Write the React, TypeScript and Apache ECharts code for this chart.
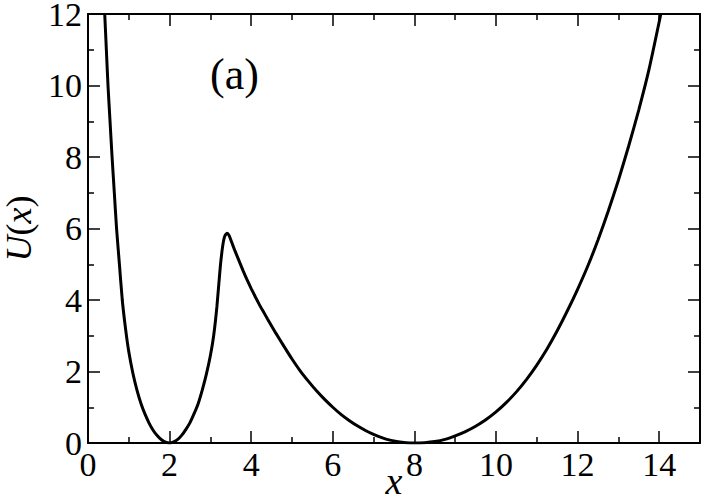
import React, { useEffect, useRef } from "react";
import * as echarts from "echarts";

const xValues = [
  0.41, 0.45, 0.49, 0.54, 0.59, 0.645, 0.7, 0.77, 0.84, 0.92, 1.0, 1.1, 1.2, 1.3, 1.4, 1.5, 1.6, 1.7, 1.8, 1.9, 2.0,
  2.1, 2.2, 2.3, 2.4, 2.5, 2.6, 2.7, 2.8, 2.9, 3.0, 3.08, 3.16, 3.24, 3.3, 3.35, 3.41, 3.46, 3.52, 3.6, 3.7, 3.8,
  3.9, 4.0, 4.1, 4.2, 4.3, 4.4, 4.6, 4.8, 5.0, 5.2, 5.4, 5.6, 5.8, 6.0, 6.2, 6.4, 6.6, 6.8, 7.0, 7.2, 7.4, 7.6,
  7.8, 8.0, 8.25, 8.5, 8.75, 9.0, 9.25, 9.5, 9.75, 10.0, 10.25, 10.5, 10.75, 11.0, 11.25, 11.5, 11.75, 12.0,
  12.25, 12.5, 12.75, 13.0, 13.25, 13.5, 13.75, 14.04,
];
const uValues = [
  12, 11, 10, 9, 8, 7, 6, 5, 4, 3.2, 2.55, 1.95, 1.48, 1.1, 0.8, 0.55, 0.35, 0.2, 0.09, 0.025, 0,
  0.03, 0.1, 0.22, 0.38, 0.57, 0.82, 1.1, 1.48, 1.92, 2.45, 3.0, 3.82, 4.9, 5.5, 5.78, 5.87, 5.8, 5.62, 5.38, 5.1, 4.82,
  4.56, 4.32, 4.09, 3.87, 3.67, 3.47, 3.08, 2.71, 2.35, 2.02, 1.73, 1.46, 1.22, 1.0, 0.8, 0.63, 0.48, 0.35, 0.24, 0.15, 0.08, 0.035,
  0.01, 0, 0.01, 0.04, 0.1, 0.2, 0.32, 0.47, 0.65, 0.87, 1.13, 1.43, 1.78, 2.18, 2.63, 3.14, 3.7, 4.3,
  4.95, 5.68, 6.48, 7.35, 8.3, 9.32, 10.45, 12,
];

const xRange = [0, 15];
const yRange = [0, 12];
const panelLabel = "(a)";

const FONT = "Liberation Serif";

export default function App() {
  const ref = useRef<HTMLDivElement>(null);
  useEffect(() => {
    document.body.style.margin = "0";
    const chart = echarts.init(ref.current!, null, { renderer: "svg" });
    const axisLine = { show: true, onZero: false, lineStyle: { color: "#000", width: 2 } };
    const tick = { show: true, inside: true, length: 12, lineStyle: { color: "#000", width: 1.5 } };
    const minor = { show: true, splitNumber: 2, length: 6, lineStyle: { color: "#000", width: 1.5 } };
    const label = { fontFamily: FONT, fontSize: 34, color: "#000" };
    const data = xValues.map((x, i) => [x, uValues[i]]);
    chart.setOption({
      animation: false,
      backgroundColor: "#fff",
      grid: { left: 88, top: 14, right: 2, bottom: 60, containLabel: false, outerBoundsMode: "none" },
      xAxis: [
        {
          type: "value", min: xRange[0], max: xRange[1], interval: 2, position: "bottom",
          axisLine, axisTick: tick, minorTick: minor, splitLine: { show: false },
          axisLabel: { ...label, margin: 4, showMaxLabel: false, formatter: (v: number) => (v === 15 ? "" : String(v)) },
          name: "x", nameLocation: "middle", nameGap: 22, nameMoveOverlap: false,
          nameTextStyle: { fontFamily: FONT, fontSize: 38, fontStyle: "italic", color: "#000", lineHeight: 32 },
        },
        {
          type: "value", min: xRange[0], max: xRange[1], interval: 2, position: "top",
          axisLine, axisTick: tick, minorTick: minor, splitLine: { show: false },
          axisLabel: { show: false },
        },
      ],
      yAxis: [
        {
          type: "value", min: yRange[0], max: yRange[1], interval: 2, position: "left",
          axisLine, axisTick: tick, minorTick: minor, splitLine: { show: false },
          axisLabel: { ...label, margin: 6 },
          name: "{i|U}{n|(}{i|x}{n|)}", nameLocation: "middle", nameGap: 52, nameMoveOverlap: false,
          nameTextStyle: {
            color: "#000",
            lineHeight: 34,
            rich: {
              i: { fontFamily: FONT, fontSize: 36, fontStyle: "italic", color: "#000", lineHeight: 34 },
              n: { fontFamily: FONT, fontSize: 36, color: "#000", lineHeight: 34 },
            },
          },
        },
        {
          type: "value", min: yRange[0], max: yRange[1], interval: 2, position: "right",
          axisLine, axisTick: tick, minorTick: minor, splitLine: { show: false },
          axisLabel: { show: false },
        },
      ],
      graphic: [
        {
          type: "text", left: 210, top: 52,
          style: { text: panelLabel, fontFamily: FONT, fontSize: 44, fill: "#000" },
        },
      ],
      series: [
        {
          type: "line", data, showSymbol: false, smooth: 0.2, clip: true,
          lineStyle: { color: "#000", width: 3 },
        },
      ],
    });
    return () => chart.dispose();
  }, []);
  return <div ref={ref} style={{ width: 702, height: 503 }} />;
}
